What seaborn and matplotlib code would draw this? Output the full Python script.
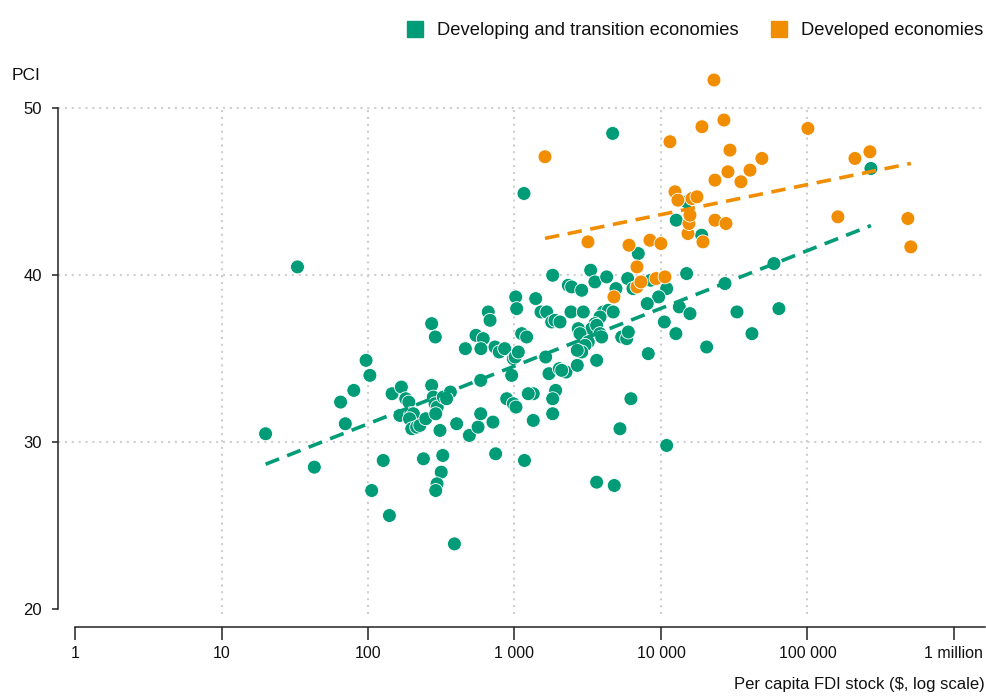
import pandas as pd
import numpy as np
import matplotlib
matplotlib.use('Agg')
import matplotlib.pyplot as plt
from matplotlib.lines import Line2D
import seaborn as sns

# 讀圖估計的資料 (per capita FDI stock in $, PCI)
dev_fdi = [20, 33, 43, 65, 70, 80, 97, 103, 106, 127, 140, 146, 169, 181, 190, 165,
           196, 204, 192, 199, 215, 226, 248, 272, 279, 287, 297, 290, 310, 327, 365,
           344, 272, 288, 239, 324, 316, 296, 290, 389, 403, 492, 564, 588, 713, 588,
           462, 546, 612, 590, 662, 681, 736, 787, 857, 957, 982, 1010, 1062, 1020,
           1035, 1120, 1211, 1396, 1517, 1660, 1795, 1890, 1633, 1720, 2023, 2248,
           1823, 2330, 2456, 2877, 3313, 3542, 4259, 4931, 5926, 6440, 7000, 8510,
           14970, 10940, 9640, 8057, 13340, 15780, 10540, 12650, 20510, 27350, 33030,
           41800, 59060, 63870, 12710, 14970, 18960, 4680, 1161, 271300, 10940, 6237,
           5250, 3640, 4800, 2430, 2950, 4038, 4368, 4723, 3835, 3542, 3365, 3640,
           2725, 2800, 3835, 3938, 3190, 3030, 2877, 2684, 3640, 2684, 2100, 5395,
           5834, 5985, 8190, 2046, 1910, 1823, 1823, 1343, 1242, 1343, 885, 982, 1024,
           744, 1170]
dev_pci = [30.5, 40.5, 28.5, 32.4, 31.1, 33.1, 34.9, 34.0, 27.1, 28.9, 25.6, 32.9,
           33.3, 32.6, 32.4, 31.6, 31.7, 31.7, 31.4, 30.8, 30.9, 31.0, 31.4, 33.4,
           32.7, 32.3, 32.1, 31.7, 30.7, 32.7, 33.0, 32.6, 37.1, 36.3, 29.0, 29.2,
           28.2, 27.5, 27.1, 23.9, 31.1, 30.4, 30.9, 31.7, 31.2, 33.7, 35.6, 36.4,
           36.2, 35.6, 37.8, 37.3, 35.7, 35.4, 35.6, 34.0, 35.0, 35.1, 35.4, 38.7,
           38.0, 36.5, 36.3, 38.6, 37.8, 37.8, 37.2, 37.3, 35.1, 34.1, 34.4, 34.2,
           40.0, 39.4, 39.3, 39.1, 40.3, 39.6, 39.9, 39.2, 39.8, 39.2, 41.3, 39.7,
           40.1, 39.2, 38.7, 38.3, 38.1, 37.7, 37.2, 36.5, 35.7, 39.5, 37.8, 36.5,
           40.7, 38.0, 43.3, 44.4, 42.4, 48.5, 44.9, 46.4, 29.8, 32.6, 30.8, 27.6,
           27.4, 37.8, 37.8, 37.8, 37.9, 37.8, 37.5, 37.1, 36.8, 37.0, 36.8, 36.5,
           36.5, 36.3, 36.0, 35.8, 35.4, 35.5, 34.9, 34.6, 34.3, 36.3, 36.2, 36.6,
           35.3, 37.2, 33.1, 32.6, 31.7, 32.9, 32.9, 31.3, 32.6, 32.3, 32.1, 29.3,
           28.9]

adv_fdi = [1615, 3175, 4776, 6050, 6860, 6860, 7300, 8410, 9250, 10000, 10650, 11520,
           12470, 13060, 15290, 15530, 15780, 16280, 17610, 19050, 19360, 23010,
           23370, 23370, 26910, 27790, 28660, 29590, 35160, 40530, 48870, 100800,
           161500, 211000, 267000, 485000, 508000]
adv_pci = [47.1, 42.0, 38.7, 41.8, 40.5, 39.3, 39.6, 42.1, 39.8, 41.9, 39.9, 48.0,
           45.0, 44.5, 42.5, 43.1, 43.6, 44.6, 44.7, 48.9, 42.0, 51.7, 45.7, 43.3,
           49.3, 43.1, 46.2, 47.5, 45.6, 46.3, 47.0, 48.8, 43.5, 47.0, 47.4, 43.4,
           41.7]

group_names = ['Developing and transition economies', 'Developed economies']
group_colors = ['#009B77', '#F18D00']

x_ticks = [1, 10, 100, 1000, 10000, 100000, 1000000]
x_ticklabels = ['1', '10', '100', '1 000', '10 000', '100 000', '1 million']
y_ticks = [20, 30, 40, 50]

df = pd.concat([
    pd.DataFrame({'fdi': dev_fdi, 'pci': dev_pci, 'group': group_names[0]}),
    pd.DataFrame({'fdi': adv_fdi, 'pci': adv_pci, 'group': group_names[1]}),
], ignore_index=True)
palette = dict(zip(group_names, group_colors))

sns.set_theme(style='white')
plt.rcParams['font.family'] = ['Liberation Sans', 'DejaVu Sans']

fig = plt.figure(figsize=(9.87, 6.99), dpi=100)
ax = fig.add_axes([58 / 987, 72 / 699, 927 / 987, 557 / 699])
ax.set_xscale('log')

sns.scatterplot(data=df, x='fdi', y='pci', hue='group', palette=palette, s=100,
                edgecolor='white', linewidth=0.6, legend=False, ax=ax, zorder=3)

# 兩組各自的對數迴歸線
for name in group_names:
    sub = df[df['group'] == name]
    sns.regplot(data=sub, x='fdi', y='pci', logx=True, ci=None, scatter=False, ax=ax,
                color=palette[name],
                line_kws={'linestyle': (0, (4.0, 2.4)), 'linewidth': 2.6, 'zorder': 4})

ax.set_xlim(0.765, 1.63e6)
ax.set_ylim(18.92, 52.3)

# 點狀格線
grid_kw = dict(color='#CFCFCF', linestyle=(0, (1, 2.3)), linewidth=1.5, zorder=1)
for yv in y_ticks[1:]:
    ax.axhline(yv, **grid_kw)
for xv in x_ticks[1:-1]:
    ax.vlines(xv, 19.7, 50, **grid_kw)

for side in ['top', 'right']:
    ax.spines[side].set_visible(False)
for side in ['left', 'bottom']:
    ax.spines[side].set_color('#222222')
    ax.spines[side].set_linewidth(1.1)
ax.spines['left'].set_bounds(20, 50)
ax.spines['bottom'].set_bounds(1, 1.63e6)

ax.set_xticks(x_ticks)
ax.set_xticklabels(x_ticklabels)
ax.minorticks_off()
ax.set_yticks(y_ticks)
ax.tick_params(axis='x', direction='out', length=9.5, width=1.1, color='#222222',
               pad=4, labelsize=11.5, labelcolor='#111111', bottom=True)
ax.tick_params(axis='y', direction='out', length=4.5, width=1.1, color='#222222',
               pad=7, labelsize=12, labelcolor='#111111', left=True)

ax.set_xlabel('Per capita FDI stock ($, log scale)', loc='right', fontsize=12,
              color='#111111', labelpad=12)
ax.set_ylabel('')
fig.text(12 / 987, 1 - 75 / 699, 'PCI', fontsize=12.5, color='#111111', va='center')

handles = [Line2D([], [], marker='s', linestyle='', markersize=12, color=c) for c in group_colors]
fig.legend(handles, group_names, loc='upper right', bbox_to_anchor=(1.013, 0.992), ncol=2,
           frameon=False, fontsize=13.2, handletextpad=0.7, columnspacing=1.7,
           handlelength=1.0, labelcolor='#111111')

fig.savefig('out.png', dpi=100)
